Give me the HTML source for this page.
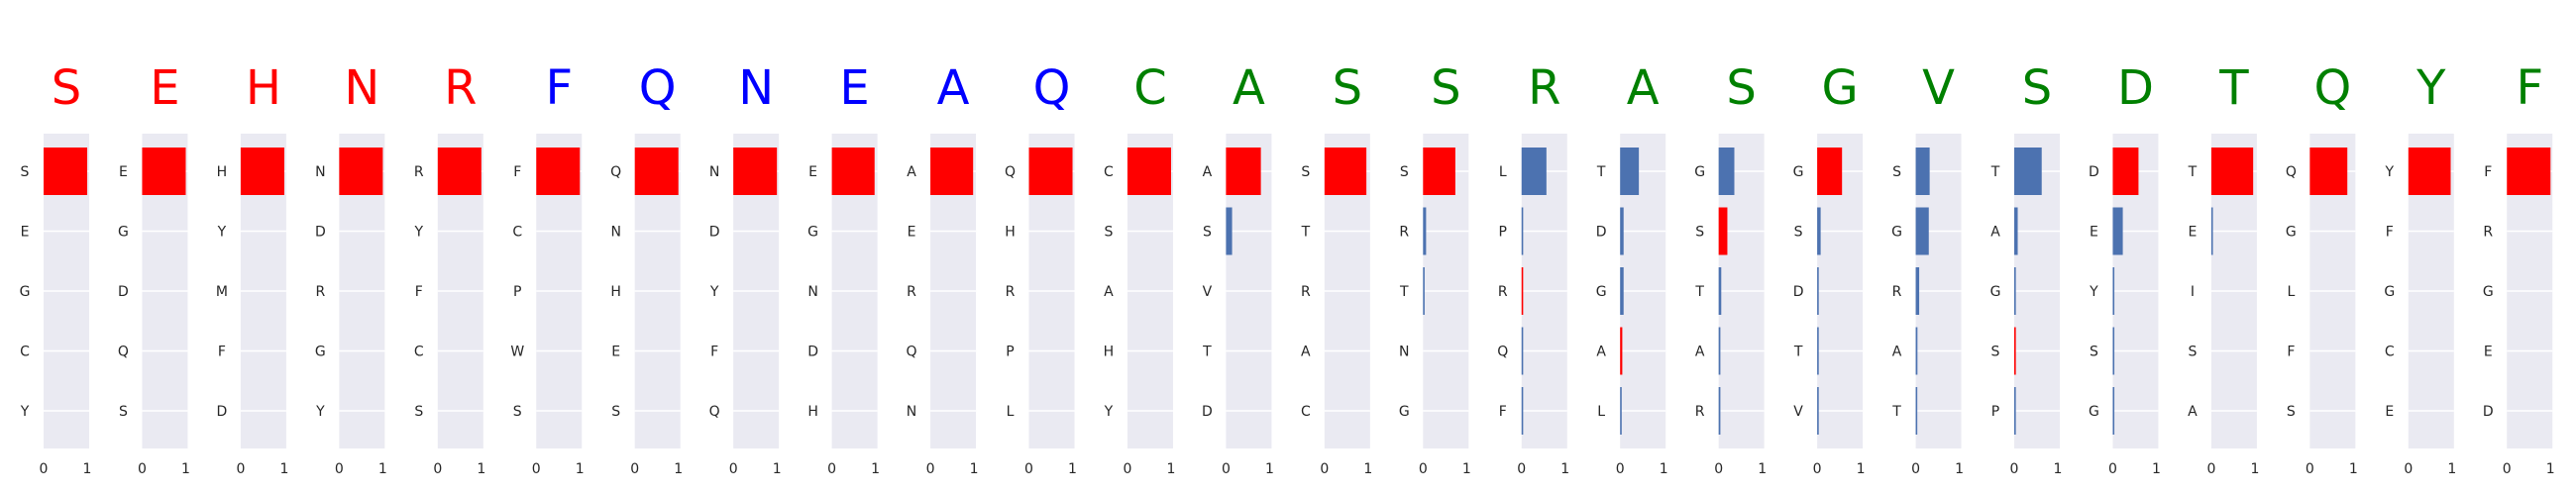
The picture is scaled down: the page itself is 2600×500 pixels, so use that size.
<!DOCTYPE html>
<html><head><meta charset="utf-8">
<style>
html,body{margin:0;padding:0;background:#fff;}
svg{display:block;font-family:"DejaVu Sans","Liberation Sans",sans-serif;}
</style></head>
<body>
<svg id="chart" width="2600" height="500" viewBox="0 0 2600 500" xmlns="http://www.w3.org/2000/svg"></svg>
<script>
const titles = ["S","E","H","N","R","F","Q","N","E","A","Q","C","A","S","S","R","A","S","G","V","S","D","T","Q","Y","F"];
const titleColors = ["#ff0000","#ff0000","#ff0000","#ff0000","#ff0000","#0000ff","#0000ff","#0000ff","#0000ff","#0000ff","#0000ff","#008000","#008000","#008000","#008000","#008000","#008000","#008000","#008000","#008000","#008000","#008000","#008000","#008000","#008000","#008000"];
const labels = [
 ["S","E","G","C","Y"],["E","G","D","Q","S"],["H","Y","M","F","D"],["N","D","R","G","Y"],["R","Y","F","C","S"],
 ["F","C","P","W","S"],["Q","N","H","E","S"],["N","D","Y","F","Q"],["E","G","N","D","H"],["A","E","R","Q","N"],
 ["Q","H","R","P","L"],["C","S","A","H","Y"],["A","S","V","T","D"],["S","T","R","A","C"],["S","R","T","N","G"],
 ["L","P","R","Q","F"],["T","D","G","A","L"],["G","S","T","A","R"],["G","S","D","T","V"],["S","G","R","A","T"],
 ["T","A","G","S","P"],["D","E","Y","S","G"],["T","E","I","S","A"],["Q","G","L","F","S"],["Y","F","G","C","E"],
 ["F","R","G","E","D"]
];
const values = [
 [1,0,0,0,0],[1,0,0,0,0],[1,0,0,0,0],[1,0,0,0,0],[1,0,0,0,0],
 [1,0,0,0,0],[1,0,0,0,0],[1,0,0,0,0],[0.98,0,0,0,0],[0.98,0,0,0,0],
 [1,0,0,0,0],[1,0,0,0,0],[0.8,0.14,0,0,0],[0.96,0,0,0,0],[0.74,0.07,0.02,0,0],
 [0.57,0.03,0.03,0.02,0.02],[0.43,0.08,0.08,0.05,0.01],[0.36,0.2,0.06,0.04,0.04],[0.57,0.08,0.01,0.02,0.005],[0.32,0.3,0.08,0.04,0.02],
 [0.63,0.08,0.03,0.02,0.02],[0.59,0.23,0.02,0.02,0.02],[0.96,0.02,0,0,0],[0.86,0,0,0,0],[0.97,0,0,0,0],
 [1,0,0,0,0]
];
const xTicks = [0,1];

const NS = "http://www.w3.org/2000/svg";
const svg = document.getElementById("chart");
const panelX0 = 44, panelStep = 99.45, panelW = 46, xMax = 1.045;
const plotTop = 135, plotBot = 453, rowPitch = 60.5, firstRow = 173;
function xScale(p, v){ return panelX0 + p*panelStep + v/xMax*panelW; }
function yScale(i){ return firstRow + i*rowPitch; }
function mk(tag, attrs){ const e=document.createElementNS(NS,tag); for(const k in attrs) e.setAttribute(k,attrs[k]); return e; }

titles.forEach((t,p)=>{
  const g = mk("g",{});
  
  
  svg.appendChild(g);
  const left = xScale(p,0);
  const bg = mk("rect",{x:left,y:plotTop,width:panelW,height:plotBot-plotTop,fill:"#eaeaf2"});
  
  
  g.appendChild(bg);
  labels[p].forEach((lab,i)=>{
    const gl = mk("line",{x1:left,x2:left+panelW,y1:yScale(i),y2:yScale(i),stroke:"#fff","stroke-width":1.5});
    
    
    g.appendChild(gl);
  });
  labels[p].forEach((lab,i)=>{
    const v = values[p][i];
    let w = xScale(p,v)-left;
    if (v > 0) {
      w = Math.max(w, 1.6);
      const bar = mk("rect",{x:left,y:yScale(i)-24,width:w,height:48,fill:(lab===t?"#ff0000":"#4c72b0")});
      
      
      g.appendChild(bar);
    }
    const tl = mk("text",{x:left-19,y:yScale(i)+5,"font-size":14,fill:"#262626","text-anchor":"middle"});
    tl.textContent = lab;
    
    
    g.appendChild(tl);
  });
  xTicks.forEach(tv=>{
    const xt = mk("text",{x:xScale(p,tv),y:478,"font-size":14,fill:"#262626","text-anchor":"middle"});
    xt.textContent = String(tv);
    
    
    g.appendChild(xt);
  });
  const tt = mk("text",{x:left+panelW/2,y:105,"font-size":48,fill:titleColors[p],"text-anchor":"middle"});
  tt.textContent = t;
  
  
  g.appendChild(tt);
});
</script>
</body></html>
